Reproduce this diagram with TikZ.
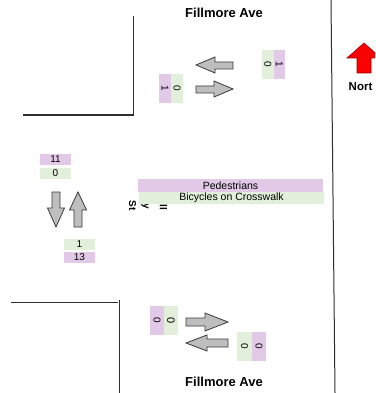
\documentclass[tikz,border=0pt]{standalone}
\usepackage{fontspec}
\setmainfont{Liberation Sans}
\definecolor{lpurple}{HTML}{E3C9E8}
\definecolor{lgreen}{HTML}{E2EFDA}
\definecolor{agray}{HTML}{BEBEBE}
\definecolor{aline}{HTML}{3A3A3A}
\definecolor{wall}{HTML}{2E2E2E}
\tikzset{
  wallline/.style={draw=wall, line width=1pt},
  blockarrow/.style={fill=agray, draw=aline, line width=0.8pt, line join=miter},
  pbox/.style={fill=lpurple, inner sep=0pt, font=\fontsize{10}{11}\selectfont},
  gbox/.style={fill=lgreen, inner sep=0pt, font=\fontsize{10}{11}\selectfont},
  street/.style={font=\bfseries\fontsize{13}{14}\selectfont},
  frag/.style={font=\bfseries\fontsize{10}{11}\selectfont, inner sep=0pt, rotate=-90},
}
\begin{document}
\begin{tikzpicture}[x=1pt,y=-1pt]
\useasboundingbox (0,0) rectangle (375,393);
\clip (0,0) rectangle (375,393);
\fill[white] (0,0) rectangle (375,393);
% walls
\draw[wallline] (133,16) -- (133,115) -- (23,115);
\draw[wallline] (11,302) -- (118,302);
\draw[wallline] (119,300) -- (119,393);
\draw[wallline] (331,0) -- (335,393);
% street names
\node[street] (topname) at (224,13) {Fillmore Ave};
\node[street] (botname) at (224,382) {Fillmore Ave};
% north arrow
\filldraw[fill=red, draw=red!60!black, line width=0.6pt] (364,43) -- (381,58) -- (371,58) -- (371,73) -- (357,73) -- (357,58) -- (347,58) -- cycle;
\node[font=\bfseries\fontsize{11.5}{13}\selectfont, anchor=west, inner sep=0pt] (north) at (348.5,87) {Nort};
% top arrows
\draw[blockarrow] (196,65) -- (215,57) -- (215,62) -- (233,62) -- (233,69) -- (215,69) -- (215,73) -- cycle;
\draw[blockarrow] (233,89) -- (214,81) -- (214,86) -- (196,86) -- (196,93) -- (214,93) -- (214,97) -- cycle;
% top labels
\node[pbox, rotate=-90, minimum width=29pt, minimum height=12pt] (t1a) at (165,88.5) {1};
\node[gbox, rotate=-90, minimum width=29pt, minimum height=12pt] (t1b) at (177,88.5) {0};
\node[gbox, rotate=-90, minimum width=29pt, minimum height=11.5pt] (t2a) at (267.75,64.5) {0};
\node[pbox, rotate=-90, minimum width=29pt, minimum height=11.5pt] (t2b) at (279.25,64.5) {1};
% left labels
\node[pbox, minimum width=31pt, minimum height=11pt] (l1) at (55.5,159.5) {11};
\node[gbox, minimum width=31pt, minimum height=11pt] (l2) at (55.5,173.5) {0};
\node[gbox, minimum width=31pt, minimum height=11pt] (l3) at (79.5,244.5) {1};
\node[pbox, minimum width=31pt, minimum height=11pt] (l4) at (79.5,257.5) {13};
% vertical arrows
\draw[blockarrow] (52,192) -- (60,192) -- (60,208) -- (64.5,208) -- (56,227) -- (47.5,208) -- (52,208) -- cycle;
\draw[blockarrow] (78,192) -- (86.5,210) -- (82,210) -- (82,227) -- (74,227) -- (74,210) -- (69.5,210) -- cycle;
% rotated street fragments (partly hidden by the bars)
\node[frag] (fragA) at (132.5,205.5) {St};
\node[frag] (fragB) at (145,206.5) {y};
\node[frag] (fragC) at (163.5,207.5) {ll};
% pedestrians / bicycles
\node[pbox, minimum width=185pt, minimum height=13pt, font=\fontsize{10.5}{11}\selectfont] (ped) at (230.5,185.5) {Pedestrians};
\node[gbox, minimum width=185pt, minimum height=12pt, font=\fontsize{10.5}{11}\selectfont] (bic) at (231.5,198) {Bicycles on Crosswalk};
% bottom labels
\node[pbox, rotate=-90, minimum width=29pt, minimum height=14pt] (b1a) at (157,320.5) {0};
\node[gbox, rotate=-90, minimum width=29pt, minimum height=14pt, font=\fontsize{11}{12}\selectfont] (b1b) at (171,320.5) {0};
\node[gbox, rotate=-90, minimum width=29pt, minimum height=15pt] (b2a) at (244.5,346.5) {0};
\node[pbox, rotate=-90, minimum width=29pt, minimum height=14pt] (b2b) at (259,346.5) {0};
% bottom arrows
\draw[blockarrow] (186,318) -- (205,318) -- (205,313) -- (228,322) -- (205,331) -- (205,326) -- (186,326) -- cycle;
\draw[blockarrow] (186,343) -- (207,335) -- (207,339) -- (228,339) -- (228,347) -- (207,347) -- (207,351) -- cycle;
\end{tikzpicture}
\end{document}
